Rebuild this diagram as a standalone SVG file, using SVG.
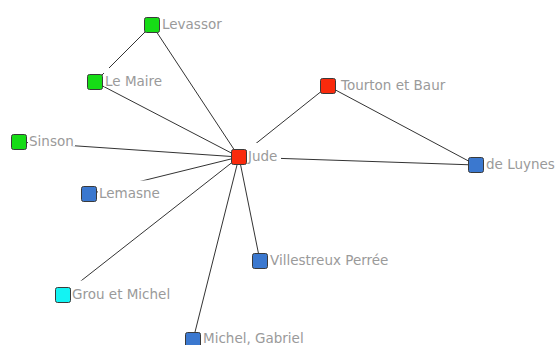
<svg xmlns="http://www.w3.org/2000/svg" width="556" height="345" viewBox="0 0 556 345">
<style>
.edge{stroke:#333;stroke-width:1;fill:none}
.bg{fill:#fff}
.n{stroke:#3a3a3a;stroke-width:1}
.g{fill:#16dc16}
.r{fill:#f92a0c}
.b{fill:#3b78cf}
.c{fill:#13f3f3}
text{font-family:"DejaVu Sans","Verdana",sans-serif;font-size:13.5px;fill:#9a9a9a}
</style>
<rect width="556" height="345" fill="#fff"/>
<g id="edges">
<line class="edge" x1="152" y1="25" x2="95" y2="82"/>
<line class="edge" x1="152" y1="25" x2="239" y2="157"/>
<line class="edge" x1="95" y1="82" x2="239" y2="157"/>
<line class="edge" x1="19" y1="142" x2="239" y2="157"/>
<line class="edge" x1="89" y1="194" x2="239" y2="157"/>
<line class="edge" x1="63" y1="295" x2="239" y2="157"/>
<line class="edge" x1="193" y1="340" x2="239" y2="157"/>
<line class="edge" x1="260" y1="261" x2="239" y2="157"/>
<line class="edge" x1="328" y1="86" x2="239" y2="157"/>
<line class="edge" x1="476" y1="165" x2="239" y2="157"/>
<line class="edge" x1="328" y1="86" x2="476" y2="165"/>
</g>
<g id="levassor">
<rect class="bg" x="161" y="11" width="62" height="18.5"/>
<rect class="n g" x="144.5" y="17.5" width="15" height="15" rx="2"/>
<text x="162" y="28.5">Levassor</text>
</g>
<g id="lemaire">
<rect class="bg" x="104" y="68" width="60" height="18.5"/>
<rect class="n g" x="87.5" y="74.5" width="15" height="15" rx="2"/>
<text x="105" y="85.5">Le Maire</text>
</g>
<g id="sinson">
<rect class="bg" x="28" y="128" width="47" height="18.5"/>
<rect class="n g" x="11.5" y="134.5" width="15" height="15" rx="2"/>
<text x="29" y="145.5">Sinson</text>
</g>
<g id="jude">
<rect class="bg" x="247" y="143" width="34" height="18.5"/>
<rect class="n r" x="231.5" y="149.5" width="15" height="15" rx="2"/>
<text x="248" y="160.5">Jude</text>
</g>
<g id="tourton">
<rect class="bg" x="340" y="72" width="109" height="18.5"/>
<rect class="n r" x="320.5" y="78.5" width="15" height="15" rx="2"/>
<text x="341" y="89.5">Tourton et Baur</text>
</g>
<g id="deluynes">
<rect class="bg" x="485" y="151" width="71" height="18.5"/>
<rect class="n b" x="468.5" y="157.5" width="15" height="15" rx="2"/>
<text x="486" y="168.5">de Luynes</text>
</g>
<g id="lemasne">
<rect class="bg" x="98" y="180.5" width="63" height="18.5"/>
<rect class="n b" x="81.5" y="186.5" width="15" height="15" rx="2"/>
<text x="99" y="198">Lemasne</text>
</g>
<g id="grou">
<rect class="bg" x="71" y="280.5" width="100" height="18.5"/>
<rect class="n c" x="55.5" y="287.5" width="15" height="15" rx="2"/>
<text x="72" y="298.5">Grou et Michel</text>
</g>
<g id="villestreux">
<rect class="bg" x="269" y="247" width="122" height="18.5"/>
<rect class="n b" x="252.5" y="253.5" width="15" height="15" rx="2"/>
<text x="270" y="264.5">Villestreux Perrée</text>
</g>
<g id="michelgabriel">
<rect class="bg" x="202" y="326" width="102" height="18.5"/>
<rect class="n b" x="185.5" y="332.5" width="15" height="15" rx="2"/>
<text x="203" y="343">Michel, Gabriel</text>
</g>
</svg>
